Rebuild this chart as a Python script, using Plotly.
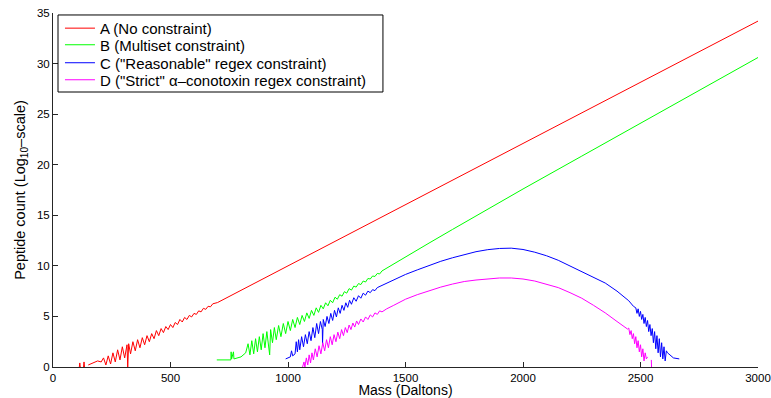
import plotly.graph_objects as go

# ---- data (mass in Daltons, log10 peptide count) ----
a_mass = [112, 114, 116, None, 130, 132, 134, None,
          150, 170, 190, 205, 215, 225, 235, 245, 255, 265, 275, 285, 295, 305,
          315, 318, 322, 330, 340, 350, 360, 370, 380, 390, 400, 410, 420, 430,
          440, 450, 460, 470, 480, 490, 500, 510, 520, 530, 540, 550, 560, 570,
          580, 590, 600, 610, 620, 630, 640, 650, 660, 670, 680, 700, 1000,
          1500, 2000, 2500, 3000]
a_val = [0.0, 0.4, 0.0, None, 0.0, 0.5, 0.0, None,
         0.2, 0.4, 0.6, 0.5, 0.9, 0.2, 1.1, 0.3, 1.4, 0.5, 1.7, 0.7, 2.0, 0.9,
         2.2, 0.0, 2.3, 1.3, 2.5, 1.6, 2.7, 1.9, 2.9, 2.2, 3.1, 2.5, 3.3, 2.8,
         3.6, 3.1, 3.8, 3.4, 4.0, 3.7, 4.2, 3.9, 4.4, 4.2, 4.7, 4.45, 4.9, 4.7,
         5.1, 4.95, 5.3, 5.2, 5.55, 5.45, 5.8, 5.7, 6.0, 5.95, 6.25, 6.37, 10.0,
         16.05, 22.1, 28.15, 34.2]

b_mass = [697, 740, 757, 758, 760, 768, 770, 800, 820, 830, 838, 846, 854, 862,
          870, 878, 886, 894, 902, 910, 918, 922, 926, 934, 942, 950, 960, 970,
          980, 990, 1000, 1010, 1020, 1030, 1040, 1050, 1060, 1070, 1080, 1090,
          1100, 1110, 1120, 1130, 1140, 1150, 1160, 1170, 1180, 1190, 1200,
          1210, 1220, 1230, 1240, 1250, 1260, 1270, 1280, 1290, 1300, 1310,
          1320, 1330, 1340, 1350, 1360, 1370, 1380, 1390, 1400, 1420, 1450,
          1500, 1600, 1700, 1800, 1900, 2000, 2250, 2500, 2750, 3000]
b_val = [0.7, 0.75, 0.7, 1.5, 0.8, 1.5, 0.8, 1.0, 1.4, 2.3, 1.2, 2.6, 1.3, 2.8,
         1.5, 3.0, 1.7, 3.3, 1.9, 3.5, 2.1, 1.2, 3.7, 2.4, 3.9, 2.7, 4.1, 3.0,
         4.3, 3.3, 4.5, 3.6, 4.7, 3.9, 4.9, 4.2, 5.1, 4.5, 5.35, 4.8,
         5.6, 5.1, 5.85, 5.4, 6.1, 5.75, 6.35, 6.05, 6.6, 6.35, 6.9,
         6.7, 7.15, 7.0, 7.45, 7.3, 7.75, 7.6, 8.0, 7.9, 8.25, 8.15,
         8.5, 8.4, 8.75, 8.7, 9.0, 8.95, 9.25, 9.2, 9.5, 9.78, 10.2,
         10.88, 12.25, 13.6, 14.95, 16.3, 17.6, 20.85, 24.1, 27.35, 30.6]

c_mass = [990, 1000, 1010, 1015, 1020, 1030, 1035, 1040, 1045, 1050, 1058, 1066,
          1074, 1082, 1090, 1098, 1106, 1114, 1122, 1130, 1138, 1146, 1147, 1150,
          1158, 1166, 1174, 1182, 1190, 1198, 1206, 1214, 1222, 1230, 1238, 1246,
          1254, 1262, 1270, 1280, 1290, 1300, 1310, 1320, 1330, 1340, 1350, 1360,
          1370, 1380, 1400, 1450, 1500, 1550, 1600, 1650, 1700, 1750, 1800, 1850,
          1900, 1950, 2000, 2050, 2100, 2150, 2200, 2250, 2300, 2350, 2400, 2450,
          2470, 2480, 2485, 2490, 2495, 2500, 2505, 2510, 2515, 2520, 2525,
          2530, 2535, 2540, 2545, 2550, 2555, 2560, 2565, 2570, 2575, 2580, 2585,
          2590, 2595, 2600, 2605, 2610, 2615, 2625, 2640, 2665]
c_val = [0.8, 0.9, 1.0, 1.6, 1.1, 1.3, 2.5, 1.5, 2.7, 1.7, 3.0, 2.0,
         3.2, 2.3, 3.5, 2.6, 3.9, 2.9, 4.3, 3.3, 4.5, 3.7, 2.3, 4.7,
         4.0, 5.0, 4.3, 5.3, 4.6, 5.6, 4.95, 5.85, 5.3, 6.1, 5.6, 6.35,
         5.9, 6.6, 6.2, 6.85, 6.5, 7.05, 6.8, 7.3, 7.1, 7.5, 7.35, 7.65,
         7.55, 7.85, 8.08, 8.65, 9.15, 9.6, 10.05, 10.45, 10.8, 11.1, 11.4, 11.6,
         11.72, 11.75, 11.62, 11.35, 11.0, 10.55, 10.0, 9.45, 8.9, 8.3, 7.5, 6.55,
         6.0, 5.85, 5.3, 5.75, 5.0, 5.5, 4.7, 5.2, 4.3, 4.9, 4.0,
         4.6, 3.5, 4.2, 3.1, 3.8, 2.4, 3.5, 1.8, 3.1, 1.4, 2.8, 1.0,
         2.4, 0.8, 2.0, 0.6, 1.6, 1.4, 1.2, 0.9, 0.8]

d_mass = [1062, 1068, 1072, 1078, 1084, 1090, 1096, 1102, 1108, 1116, 1124, 1132,
          1140, 1148, 1156, 1164, 1172, 1180, 1188, 1196, 1204, 1212, 1220, 1228,
          1236, 1244, 1252, 1260, 1268, 1276, 1284, 1292, 1300, 1310, 1320, 1330,
          1340, 1350, 1360, 1370, 1380, 1390, 1400, 1420, 1450, 1500, 1550, 1600,
          1650, 1700, 1750, 1800, 1850, 1900, 1950, 2000, 2050, 2100, 2150, 2200,
          2250, 2300, 2350, 2400, 2430, 2445, 2450,
          2455, 2460, 2465, 2470, 2475, 2480, 2485, 2490, 2495, 2500, 2505, 2510,
          2515, 2520, 2525, 2530, None, 2546, 2547]
d_val = [0.0, 0.5, 0.0, 0.9, 0.2, 1.2, 0.4, 1.4, 0.7, 1.8, 1.0, 2.1,
         1.3, 2.4, 1.6, 2.7, 1.9, 3.0, 2.2, 3.2, 2.5, 3.45, 2.8, 3.7,
         3.1, 3.9, 3.4, 4.15, 3.7, 4.35, 3.95, 4.55, 4.2, 4.75, 4.45, 4.95,
         4.7, 5.15, 4.95, 5.35, 5.2, 5.55, 5.45, 5.75, 6.1, 6.7, 7.15, 7.55,
         7.9, 8.2, 8.45, 8.6, 8.72, 8.8, 8.8, 8.7, 8.5, 8.2, 7.85, 7.35,
         6.8, 6.1, 5.35, 4.5, 4.05, 3.75, 3.85,
         3.2, 3.6, 2.8, 3.3, 2.3, 3.0, 1.9, 2.6, 1.5, 2.2, 1.0, 1.8,
         0.6, 1.4, 0.8, 1.0, None, 0.7, 0.0]

names = ['A (No constraint)',
         'B (Multiset constraint)',
         'C ("Reasonable" regex constraint)',
         'D ("Strict" α–conotoxin regex constraint)']
colors = ['#ff0000', '#00ff00', '#0000ff', '#ff00ff']
x_ticks = [0, 500, 1000, 1500, 2000, 2500, 3000]
y_ticks = [0, 5, 10, 15, 20, 25, 30, 35]

FONT = 'Liberation Sans, Arial, sans-serif'
legend_ids = ['legend', 'legend2', 'legend3', 'legend4']
legend_rows = [0.9565, 0.9096, 0.8588, 0.8107]   # row centres (paper units)

fig = go.Figure()
for xs, ys, nm, col, lg in zip([a_mass, b_mass, c_mass, d_mass],
                               [a_val, b_val, c_val, d_val], names, colors,
                               legend_ids):
    fig.add_trace(go.Scatter(x=xs, y=ys, mode='lines', name=nm, legend=lg,
                             line=dict(color=col, width=1), connectgaps=False))

axis_common = dict(showgrid=False, zeroline=False, showline=True,
                   linecolor='#262626', linewidth=1, ticks='inside',
                   ticklen=5, tickcolor='#262626', mirror=False,
                   automargin=False, ticklabeloverflow='allow',
                   tickfont=dict(family=FONT, size=11.5, color='#000'))

legend_style = dict(x=0.0099, xanchor='left', yanchor='middle',
                    bgcolor='rgba(0,0,0,0)', borderwidth=0,
                    font=dict(family=FONT, size=15, color='#000'), itemwidth=30)

layout_legends = {lg: dict(y=yr, **legend_style)
                  for lg, yr in zip(legend_ids, legend_rows)}

fig.update_layout(
    width=771, height=398,
    margin=dict(l=53, r=13, t=13, b=31),
    paper_bgcolor='white', plot_bgcolor='white',
    font=dict(family=FONT, size=15, color='#000'),
    xaxis=dict(range=[0, 3000], tickvals=x_ticks, ticktext=[str(v) for v in x_ticks],
               title=dict(text='Mass (Daltons)', standoff=2,
                          font=dict(size=14)), **axis_common),
    yaxis=dict(range=[0, 35], tickvals=y_ticks, ticktext=[str(v) for v in y_ticks],
               title=dict(text='Peptide count (Log<sub>10</sub>–scale)', standoff=7,
                          font=dict(size=14.5)), **axis_common),
    showlegend=True,
    shapes=[dict(type='rect', xref='paper', yref='paper',
                 x0=0.0071, x1=0.468, y0=0.7768, y1=0.9944,
                 line=dict(color='#000', width=1), fillcolor='white',
                 layer='above')],
    **layout_legends,
)

fig.write_html('out.html')
